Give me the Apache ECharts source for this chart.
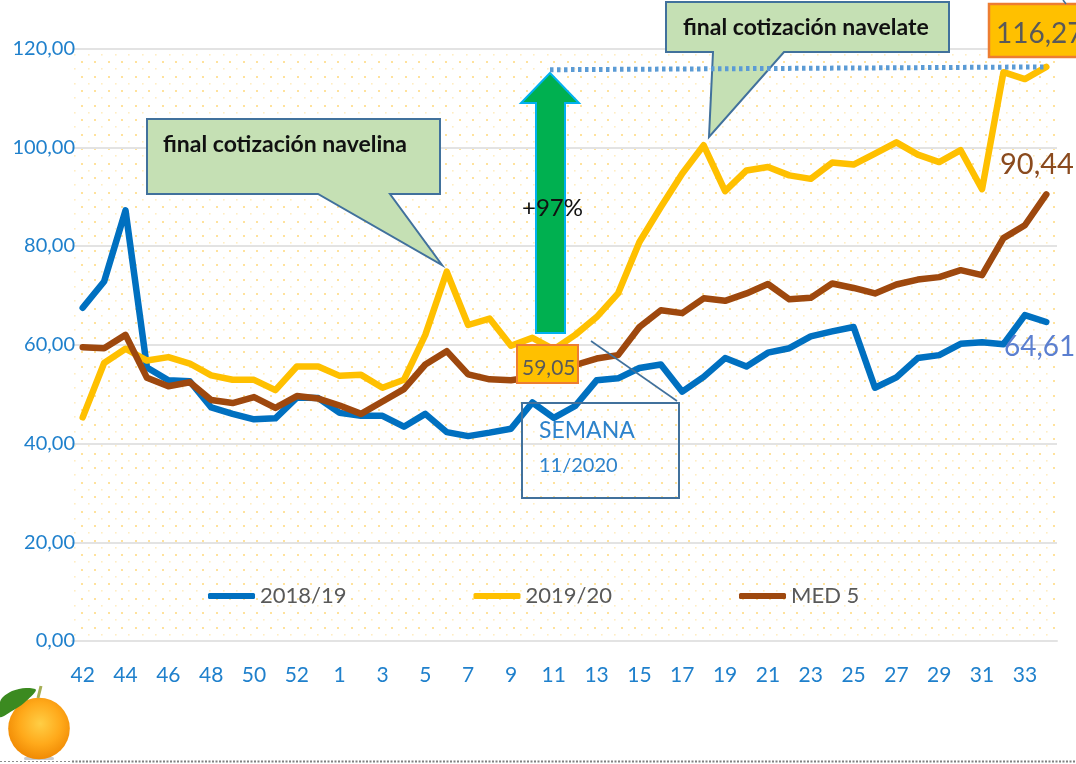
<!DOCTYPE html>
<html><head><meta charset="utf-8">
<style>html,body{margin:0;padding:0;background:#fff}#c{width:1076px;height:764px}</style>
<script src="https://cdn.jsdelivr.net/npm/echarts@6/dist/echarts.min.js"></script>
</head><body><div id="c"></div>
<script>
const weeks = ['42','43','44','45','46','47','48','49','50','51','52','53','1','2','3','4','5','6','7','8','9','10','11','12','13','14','15','16','17','18','19','20','21','22','23','24','25','26','27','28','29','30','31','32','33','34'];
const s1819 = [67.5,72.8,87.2,55.4,52.8,52.6,47.3,46.0,44.9,45.1,49.3,49.2,46.2,45.6,45.6,43.4,46.0,42.3,41.5,42.2,43.0,48.3,45.2,47.6,52.8,53.2,55.3,56.0,50.5,53.5,57.3,55.6,58.4,59.3,61.7,62.7,63.6,51.3,53.4,57.3,57.9,60.2,60.5,60.1,66.0,64.61];
const s1920 = [45.3,56.3,59.2,56.8,57.5,56.2,53.8,52.9,52.9,50.8,55.6,55.6,53.7,53.9,51.3,52.9,62.0,74.8,64.0,65.3,59.8,61.4,59.05,62.0,65.6,70.4,80.8,87.9,94.7,100.4,91.1,95.3,96.0,94.3,93.6,96.9,96.5,98.7,101.0,98.5,97.0,99.4,91.5,115.2,113.8,116.27];
const med5 = [59.5,59.3,62.0,53.3,51.6,52.4,48.8,48.2,49.4,47.2,49.6,49.1,47.7,46.0,48.5,51.0,56.0,58.7,54.0,53.0,52.8,53.5,55.0,55.9,57.2,57.9,63.6,67.0,66.4,69.4,68.9,70.4,72.3,69.2,69.5,72.4,71.5,70.4,72.2,73.2,73.7,75.1,74.1,81.6,84.2,90.44];
const seriesNames = ['2018/19','2019/20','MED 5'];
const seriesColors = ['#0070C0','#FFC000','#9E480E'];
const calloutNavelina = 'final cotización navelina';
const calloutNavelate = 'final cotización navelate';
const labelMax = '116,27', labelMed = '90,44', labelPrev = '64,61', labelMin = '59,05';
const labelPct = '+97%', labelSem = 'SEMANA', labelSemWeek = '11/2020';
const dottedLevels = [115.7, 116.27];

const FONT = 'Lato, "Open Sans", sans-serif';
const tile = document.createElement('canvas');
tile.width = 27; tile.height = 29;
const t = tile.getContext('2d');
t.fillStyle = '#FFE29C';
t.fillRect(0, 3, 2, 2); t.fillRect(13, 3, 2, 2);
t.fillStyle = '#FFEDC2';
t.fillRect(7, 10, 1.6, 1.6); t.fillRect(20, 10, 1.6, 1.6);
t.fillStyle = '#FFE29C';
t.fillRect(0, 18, 2, 2); t.fillRect(13, 18, 2, 2);
t.fillStyle = '#FFEDC2';
t.fillRect(7, 25, 1.6, 1.6); t.fillRect(20, 25, 1.6, 1.6);

const mkLine = (name, data, color) => ({
  name, type: 'line', data, symbol: 'none', smooth: false, z: 2,
  lineStyle: { color, width: 6.5, cap: 'round', join: 'round' },
  itemStyle: { color }
});
const series = [
  mkLine(seriesNames[0], s1819, seriesColors[0]),
  mkLine(seriesNames[1], s1920, seriesColors[1]),
  mkLine(seriesNames[2], med5, seriesColors[2])
];

const chart = echarts.init(document.getElementById('c'), null, { renderer: 'canvas', width: 1076, height: 764 });
chart.setOption({
  animation: false,
  backgroundColor: '#fff',
  grid: { show: true, left: 72, right: 19, top: 48.5, bottom: 123, borderWidth: 0,
          backgroundColor: { image: tile, repeat: 'repeat' } },
  legend: {
    left: 203, top: 580, itemWidth: 47, itemHeight: 6, itemGap: 127, icon: 'roundRect',
    textStyle: { color: '#595959', fontSize: 22, fontFamily: FONT, padding: [9, 0, 0, 0] },
    data: seriesNames
  },
  xAxis: {
    type: 'category', data: weeks, boundaryGap: true,
    axisTick: { show: false },
    axisLine: { show: true, lineStyle: { color: '#E3E3E3', width: 2 } },
    axisLabel: { interval: 1, color: '#1F80CC', fontSize: 21, fontFamily: FONT, margin: 24 }
  },
  yAxis: {
    type: 'value', min: 0, max: 120, interval: 20,
    axisLine: { show: false }, axisTick: { show: false },
    splitLine: { lineStyle: { color: '#E3E3E3', width: 2 } },
    axisLabel: { color: '#1F80CC', fontSize: 20, fontFamily: FONT, margin: -3,
                 formatter: v => v.toFixed(2).replace('.', ',') }
  },
  series
});

const stroke = '#41719C';
const yPx = v => chart.convertToPixel({ yAxisIndex: 0 }, v);
const txt = (x, y, text, font, fill, z) => ({ type: 'text', x, y, z: z || 7, style: { text, font, fill, verticalAlign: 'middle' } });
const poly = (points, fill, strokeC, lw, z) => ({ type: 'polygon', z, shape: { points }, style: { fill, stroke: strokeC, lineWidth: lw } });
const graphic = [
  poly([[147,119],[440,119],[440,194],[390,194],[442,265],[318,194],[147,194]], '#C5E0B4', stroke, 2, 3),
  txt(163, 145, calloutNavelina, '700 23px ' + FONT, '#111'),
  poly([[666,2],[949,2],[949,52],[784,52],[709,137],[713,52],[666,52]], '#C5E0B4', stroke, 2, 3),
  txt(683, 28, calloutNavelate, '700 23px ' + FONT, '#111'),
  { type: 'line', z: 5, shape: { x1: 550, y1: yPx(dottedLevels[0]), x2: 1045, y2: yPx(dottedLevels[1]) },
    style: { stroke: '#5B9BD5', lineWidth: 5, lineDash: [3.5, 3.5] } },
  poly([[550,73],[579,103],[565,103],[565,333],[536,333],[536,103],[521,103]], '#00B050', '#00B0F0', 2, 4),
  txt(522, 208, labelPct, '24px ' + FONT, '#111'),
  { type: 'rect', z: 6, shape: { x: 517, y: 345, width: 61, height: 38 }, style: { fill: '#FFC000', stroke: '#ED7D31', lineWidth: 2 } },
  txt(522, 368, labelMin, '21px ' + FONT, '#595959'),
  { type: 'rect', z: 6, shape: { x: 989, y: 4, width: 100, height: 53 }, style: { fill: '#FFC000', stroke: '#ED7D31', lineWidth: 2.5 } },
  txt(996, 34, labelMax, '28px ' + FONT, '#595959'),
  txt(1000, 165, labelMed, '29px ' + FONT, '#8A4A1E'),
  txt(1004, 347, labelPrev, '28px ' + FONT, '#5B7FD0'),
  { type: 'rect', z: 6, shape: { x: 522, y: 403, width: 157, height: 95 }, style: { fill: 'none', stroke, lineWidth: 2 } },
  { type: 'line', z: 6, shape: { x1: 591, y1: 341, x2: 677, y2: 401 }, style: { stroke, lineWidth: 1.6 } },
  txt(539, 431, labelSem, '23px ' + FONT, '#2E83CB'),
  txt(539, 466, labelSemWeek, '20px ' + FONT, '#2E83CB'),
  { type: 'line', z: 6, shape: { x1: 1063, y1: 0, x2: 1066, y2: 4 }, style: { stroke, lineWidth: 1.6 } },
  { type: 'line', z: 1, shape: { x1: 0, y1: 761.5, x2: 72, y2: 761.5 }, style: { stroke: '#8C8C8C', lineWidth: 1, lineDash: [2, 2] } },
  { type: 'line', z: 1, shape: { x1: 72, y1: 761.5, x2: 1076, y2: 761.5 }, style: { stroke: '#808080', lineWidth: 2, lineDash: [2, 1.5] } },
  { type: 'rect', z: 3, shape: { x: 24, y: 757, width: 30, height: 3, r: 1.5 }, style: { fill: '#C8CBD0' } },
  { type: 'circle', z: 4, shape: { cx: 39, cy: 728.5, r: 30.8 },
    style: { fill: { type: 'radial', x: 0.52, y: 0.42, r: 0.62, colorStops: [
      { offset: 0, color: '#FFCE45' }, { offset: 0.55, color: '#FFA91A' }, { offset: 1, color: '#EE8500' }] } } },
  { type: 'polygon', z: 5, shape: { smooth: 0.3, points: [[36,690],[26,688],[12,691],[3,697],[0,702],[0,717],[12,711],[24,703]] }, style: { fill: '#3B8A20' } },
  { type: 'line', z: 5, shape: { x1: 38, y1: 698, x2: 41, y2: 686 }, style: { stroke: '#A5AE55', lineWidth: 3 } }
];
chart.setOption({ graphic: { elements: graphic } });
</script></body></html>
